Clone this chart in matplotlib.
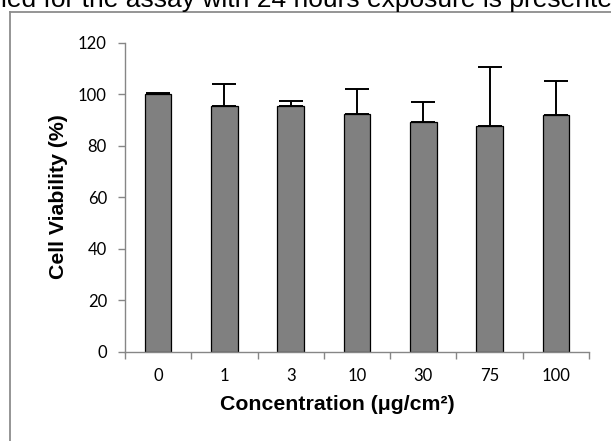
import matplotlib
matplotlib.use("Agg")
import matplotlib.pyplot as plt
from matplotlib.lines import Line2D
import numpy as np

# Cell viability after 24 h exposure
concentrations = ["0", "1", "3", "10", "30", "75", "100"]
viability = [100.0, 95.3, 95.3, 92.2, 89.1, 87.8, 91.8]
viability_sd = [0.3, 8.5, 2.1, 9.7, 7.7, 22.8, 13.4]
y_ticks = [0, 20, 40, 60, 80, 100, 120]

W, H = 611, 441
fig = plt.figure(figsize=(W / 100, H / 100), dpi=100)

axis_gray = "#868686"

# plot area in pixel units
left, right, bottom, top = 125, 589, 351.7, 42.7
ax = fig.add_axes([left / W, 1 - bottom / H, (right - left) / W, (bottom - top) / H])

x = np.arange(len(concentrations))
ax.bar(x, viability, width=0.4, color="#808080", edgecolor="black",
       linewidth=0.9, zorder=2)
ax.errorbar(x, viability, yerr=[np.zeros(len(x)), viability_sd], fmt="none",
            ecolor="black", elinewidth=1.4, capsize=8.5, capthick=1.4, zorder=3)

ax.set_xlim(-0.5, len(x) - 0.5)
ax.set_ylim(0, 120)
ax.set_yticks(y_ticks)

# tick marks at category boundaries, labels at category centres
ax.set_xticks(np.arange(-0.5, len(x)), minor=False)
ax.set_xticklabels([])
ax.set_xticks(x, minor=True)
ax.set_xticklabels(concentrations, minor=True)
ax.tick_params(axis="x", which="major", direction="out", length=5,
               width=1, color=axis_gray)
ax.tick_params(axis="x", which="minor", length=0, pad=12)
ax.tick_params(axis="y", direction="out", length=5, width=1,
               color=axis_gray, pad=8)

for lab in ax.get_yticklabels() + ax.get_xticklabels(minor=True):
    lab.set_fontfamily("Lato")
    lab.set_fontsize(12)
    lab.set_color("black")

for s in ["top", "right"]:
    ax.spines[s].set_visible(False)
for s in ["left", "bottom"]:
    ax.spines[s].set_color(axis_gray)
    ax.spines[s].set_linewidth(1)

fig.text(337 / W, 1 - 405 / H, "Concentration (μg/cm²)", ha="center",
         va="center", fontsize=15.3, fontweight="bold", family="Liberation Sans")
fig.text(59 / W, 1 - 197 / H, "Cell Viability (%)", ha="center",
         va="center", rotation=90, fontsize=15.3, fontweight="bold",
         family="Liberation Sans")

# surrounding chart border (left and top edges)
frame_color = "#8c8c8c"
fig.add_artist(Line2D([9.5 / W, 9.5 / W], [0, 1 - 12 / H],
                      transform=fig.transFigure, color=frame_color, lw=1.3))
fig.add_artist(Line2D([9.5 / W, 1], [1 - 12 / H, 1 - 12 / H],
                      transform=fig.transFigure, color=frame_color, lw=1.3))

# running document text above the chart
fig.text(1 / W, 1 - 6.5 / H, "ied for the assay with 24 hours exposure is presented",
         ha="left", va="baseline", fontsize=19, family="Liberation Sans")

fig.savefig("out.png", dpi=100)
